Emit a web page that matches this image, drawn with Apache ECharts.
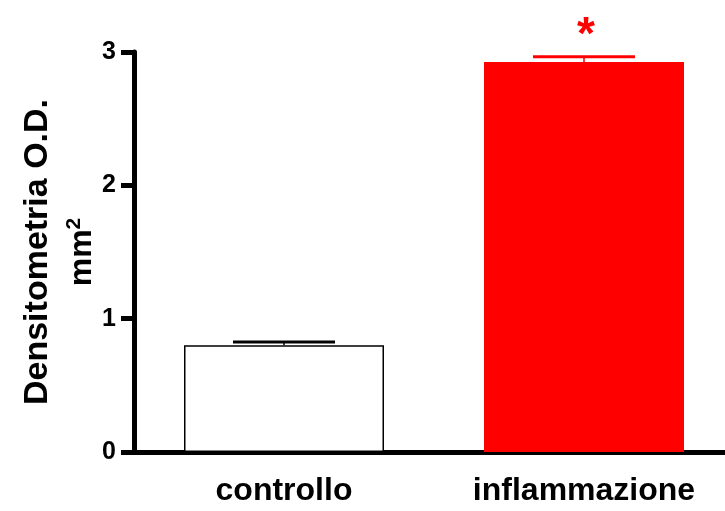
<!DOCTYPE html>
<html>
<head>
<meta charset="utf-8">
<script src="https://cdn.jsdelivr.net/npm/echarts@6/dist/echarts.min.js"></script>
<style>html,body{margin:0;padding:0;background:#fff}#c{width:725px;height:511px}</style>
</head>
<body>
<div id="c"></div>
<script>
var categories = ['controllo', 'inflammazione'];
var means = [0.80, 2.925];
var errors = [0.025, 0.04];
var marks = ['', '*'];
var yTicks = [0, 1, 2, 3];

var barColors = ['#ffffff', '#ff0000'];
var barBorders = ['#000000', '#ff0000'];
var capColors = ['#000000', '#ff0000'];

var chart = echarts.init(document.getElementById('c'), null, {renderer: 'canvas'});
var FONT = '"Liberation Sans", Arial, sans-serif';

chart.setOption({
  animation: false,
  grid: {left: 134, top: 52, width: 600, height: 400, containLabel: false, outerBoundsMode: 'none'},
  xAxis: {
    type: 'category',
    data: categories,
    axisLine: {lineStyle: {color: '#000', width: 5}},
    axisTick: {show: false},
    axisLabel: {color: '#000', fontFamily: FONT, fontWeight: 'bold', fontSize: 32, margin: 23}
  },
  yAxis: {
    type: 'value',
    min: yTicks[0], max: yTicks[yTicks.length - 1], interval: 1,
    name: '{a|Densitometria O.D.}\n{b|mm}{s|2}',
    nameLocation: 'middle',
    nameRotate: 90,
    nameGap: 30,
    nameMoveOverlap: false,
    nameTextStyle: {
      color: '#000', fontFamily: FONT, fontWeight: 'bold', fontSize: 34, lineHeight: 44, align: 'center',
      rich: {
        a: {color: '#000', fontFamily: FONT, fontWeight: 'bold', fontSize: 34, lineHeight: 44},
        b: {color: '#000', fontFamily: FONT, fontWeight: 'bold', fontSize: 32, lineHeight: 44},
        s: {color: '#000', fontFamily: FONT, fontWeight: 'bold', fontSize: 21, lineHeight: 44, verticalAlign: 'top', padding: [4, 0, 0, 0]}
      }
    },
    axisLine: {show: true, lineStyle: {color: '#000', width: 5}},
    axisTick: {show: true, length: 13, lineStyle: {color: '#000', width: 5}},
    axisLabel: {color: '#000', fontFamily: FONT, fontWeight: 'bold', fontSize: 25, margin: 18},
    splitLine: {show: false}
  },
  series: [
    {
      type: 'bar',
      barWidth: 200,
      data: means.map(function (v, i) {
        return {value: v, itemStyle: {color: barColors[i], borderColor: barBorders[i], borderWidth: 1.5}};
      }),
      z: 2
    },
    {
      type: 'custom',
      z: 3,
      data: means.map(function (v, i) { return [i, v, errors[i], marks[i]]; }),
      renderItem: function (params, api) {
        var i = api.value(0);
        var top = api.coord([i, api.value(1) + api.value(2)]);
        var base = api.coord([i, api.value(1)]);
        var half = api.size([1, 0])[0] * 0.17;
        var col = capColors[params.dataIndex];
        var children = [
          {type: 'line', shape: {x1: top[0], y1: base[1], x2: top[0], y2: top[1]}, style: {stroke: col, lineWidth: 1.5}},
          {type: 'line', shape: {x1: top[0] - half, y1: top[1], x2: top[0] + half, y2: top[1]}, style: {stroke: col, lineWidth: 3}}
        ];
        var m = marks[params.dataIndex];
        if (m) {
          children.push({type: 'text', style: {text: m, x: top[0] + 2, y: top[1] - 20, fill: '#ff0000', font: 'bold 46px ' + FONT, align: 'center', verticalAlign: 'middle'}});
        }
        return {type: 'group', children: children};
      }
    }
  ]
});
</script>
</body>
</html>
